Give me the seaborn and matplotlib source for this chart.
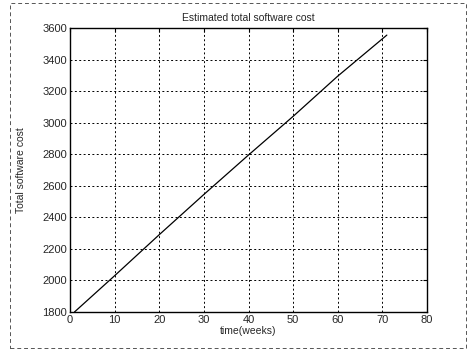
import pandas as pd
import seaborn as sns
import matplotlib.pyplot as plt
from matplotlib.patches import Rectangle

# values
weeks = [1, 10, 20, 30, 40, 50, 60, 71]
cost = [1800, 2030, 2290, 2545, 2795, 3040, 3295, 3555]

df = pd.DataFrame({'week': weeks, 'cost': cost})

sns.set_style("white")
plt.rcParams['font.family'] = ['Liberation Sans', 'DejaVu Sans']

fig = plt.figure(figsize=(4.69, 3.53), dpi=100)
ax = fig.add_axes([70/469, 1 - 312/353, (427-70)/469, (312-28)/353])

sns.lineplot(data=df, x='week', y='cost', color='black', linewidth=0.9, ax=ax)

ax.set_xlim(0, 80)
ax.set_ylim(1800, 3600)
ax.set_xticks(range(0, 81, 10))
ax.set_yticks(range(1800, 3601, 200))
ax.grid(True, color='black', linestyle=(0, (2, 2.5)), linewidth=0.7)
ax.tick_params(direction='in', length=3, top=True, right=True, labelsize=8, pad=2, color='black')
for s in ax.spines.values():
    s.set_color('black')
    s.set_linewidth(1.0)

ax.set_title("Estimated total software cost", fontsize=7.5, pad=5)
ax.set_xlabel("time(weeks)", fontsize=7.5, labelpad=1)
ax.set_ylabel("Total software cost", fontsize=7.5, labelpad=12)

# dashed frame around the figure
fig.patches.append(Rectangle((10/469, 5/353), 456/469, 345/353, transform=fig.transFigure,
                             fill=False, edgecolor='#555555', linestyle=(0, (4, 3)), linewidth=0.7))

fig.savefig("out.png", dpi=100)
